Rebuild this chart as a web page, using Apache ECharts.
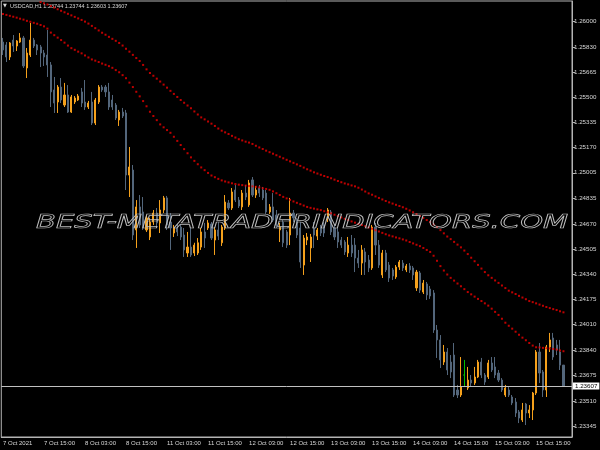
<!DOCTYPE html>
<html><head><meta charset="utf-8">
<script src="https://cdn.jsdelivr.net/npm/echarts@6/dist/echarts.min.js"></script>
<style>html,body{margin:0;padding:0;background:#000}#c{width:600px;height:450px}</style>
</head><body><div id="c"></div>
<script>
// ---- DATA (USDCAD, H1) ----
const SYMBOL = 'USDCAD,H1';
const DAY_STARTS = [['7 Oct',3],['8 Oct',0],['11 Oct',0],['12 Oct',0],['13 Oct',0],['14 Oct',0],['15 Oct',0]];
const FIRST_LABEL = '7 Oct 2021';
const EMPTY_SLOTS = 2;

const OPEN = [1.25862,1.25843,1.25764,1.25875,1.25836,1.25862,1.25889,1.25692,1.25777,1.25875,
1.25843,1.25830,1.25790,1.25777,1.25712,1.25548,1.25469,1.25567,1.25449,1.25515,
1.25403,1.25469,1.25482,1.25535,1.25469,1.25436,1.25469,1.25331,1.25469,1.25567,
1.25567,1.25535,1.25482,1.25449,1.25351,1.25403,1.25397,1.24990,1.25023,1.24630,
1.24781,1.24748,1.24630,1.24584,1.24682,1.24741,1.24676,1.24761,1.24840,1.24682,
1.24610,1.24643,1.24649,1.24597,1.24479,1.24518,1.24479,1.24479,1.24518,1.24617,
1.24643,1.24669,1.24564,1.24630,1.24546,1.24643,1.24807,1.24774,1.24892,1.24826,
1.24781,1.24872,1.24794,1.24958,1.24859,1.24905,1.24892,1.24872,1.24748,1.24781,
1.24728,1.24630,1.24682,1.24617,1.24597,1.24741,1.24695,1.24643,1.24400,1.24564,
1.24512,1.24643,1.24590,1.24649,1.24663,1.24709,1.24748,1.24643,1.24617,1.24564,
1.24551,1.24479,1.24531,1.24531,1.24446,1.24413,1.24486,1.24433,1.24381,1.24649,
1.24531,1.24335,1.24479,1.24400,1.24368,1.24322,1.24387,1.24413,1.24368,1.24394,
1.24381,1.24250,1.24348,1.24223,1.24276,1.24243,1.24217,1.23974,1.23909,1.23764,
1.23830,1.23764,1.23810,1.23581,1.23548,1.23679,1.23594,1.23646,1.23627,1.23666,
1.23764,1.23679,1.23666,1.23758,1.23732,1.23692,1.23646,1.23548,1.23581,1.23535,
1.23502,1.23437,1.23384,1.23489,1.23430,1.23450,1.23561,1.23830,1.23699,1.23581,
1.23863,1.23922,1.23876,1.23830,1.23744];
const HIGH = [1.25889,1.25862,1.25862,1.25908,1.25875,1.25921,1.25902,1.25823,1.25987,1.25889,
1.25849,1.25843,1.25810,1.25941,1.25731,1.25633,1.25580,1.25626,1.25594,1.25580,
1.25515,1.25508,1.25521,1.25561,1.25613,1.25476,1.25535,1.25495,1.25580,1.25580,
1.25580,1.25594,1.25515,1.25462,1.25417,1.25430,1.25417,1.25174,1.25056,1.24826,
1.24859,1.24846,1.24728,1.24709,1.24761,1.24774,1.24826,1.24853,1.24853,1.24741,
1.24663,1.24669,1.24669,1.24643,1.24617,1.24643,1.24546,1.24577,1.24643,1.24676,
1.24695,1.24682,1.24649,1.24682,1.24663,1.24859,1.24826,1.24905,1.24925,1.24846,
1.24892,1.24925,1.24958,1.24977,1.24918,1.24925,1.24912,1.24892,1.24800,1.24872,
1.24761,1.24676,1.24695,1.24630,1.24840,1.24761,1.24709,1.24682,1.24597,1.24610,
1.24604,1.24682,1.24643,1.24663,1.24682,1.24774,1.24761,1.24663,1.24643,1.24584,
1.24564,1.24584,1.24597,1.24577,1.24499,1.24531,1.24512,1.24466,1.24663,1.24676,
1.24564,1.24499,1.24499,1.24420,1.24381,1.24400,1.24433,1.24433,1.24407,1.24413,
1.24394,1.24368,1.24361,1.24302,1.24289,1.24263,1.24236,1.24007,1.23941,1.23876,
1.23856,1.23810,1.23889,1.23614,1.23797,1.23778,1.23732,1.23679,1.23732,1.23778,
1.23791,1.23692,1.23778,1.23797,1.23797,1.23712,1.23659,1.23614,1.23601,1.23548,
1.23528,1.23450,1.23496,1.23496,1.23482,1.23568,1.23843,1.23889,1.23712,1.23876,
1.23955,1.23955,1.23909,1.23909,1.23744];
const LOW = [1.25777,1.25731,1.25744,1.25797,1.25803,1.25856,1.25692,1.25626,1.25764,1.25823,
1.25777,1.25698,1.25705,1.25633,1.25436,1.25397,1.25397,1.25462,1.25436,1.25397,
1.25397,1.25456,1.25476,1.25436,1.25417,1.25423,1.25318,1.25318,1.25456,1.25535,
1.25502,1.25417,1.25417,1.25351,1.25312,1.25364,1.24892,1.24846,1.24564,1.24512,
1.24643,1.24630,1.24617,1.24564,1.24663,1.24656,1.24610,1.24741,1.24630,1.24499,
1.24584,1.24590,1.24564,1.24453,1.24453,1.24453,1.24459,1.24466,1.24499,1.24512,
1.24630,1.24564,1.24466,1.24564,1.24525,1.24630,1.24761,1.24761,1.24813,1.24774,
1.24761,1.24826,1.24781,1.24846,1.24840,1.24846,1.24826,1.24735,1.24735,1.24682,
1.24643,1.24551,1.24518,1.24512,1.24531,1.24682,1.24577,1.24381,1.24335,1.24531,
1.24420,1.24512,1.24564,1.24590,1.24584,1.24682,1.24597,1.24564,1.24512,1.24512,
1.24466,1.24453,1.24453,1.24354,1.24381,1.24335,1.24335,1.24354,1.24368,1.24466,
1.24381,1.24315,1.24354,1.24289,1.24302,1.24309,1.24368,1.24361,1.24354,1.24348,
1.24302,1.24230,1.24217,1.24210,1.24171,1.24178,1.23955,1.23791,1.23725,1.23745,
1.23679,1.23659,1.23535,1.23528,1.23535,1.23601,1.23581,1.23607,1.23614,1.23659,
1.23659,1.23614,1.23653,1.23699,1.23659,1.23633,1.23568,1.23535,1.23535,1.23482,
1.23404,1.23364,1.23371,1.23351,1.23397,1.23384,1.23548,1.23627,1.23535,1.23535,
1.23830,1.23778,1.23810,1.23712,1.23603];
const CLOSE = [1.25810,1.25764,1.25856,1.25836,1.25869,1.25889,1.25705,1.25790,1.25875,1.25836,
1.25810,1.25790,1.25764,1.25712,1.25535,1.25462,1.25567,1.25482,1.25515,1.25403,
1.25502,1.25495,1.25508,1.25462,1.25436,1.25462,1.25331,1.25482,1.25567,1.25548,
1.25535,1.25436,1.25436,1.25364,1.25403,1.25377,1.24990,1.25043,1.24597,1.24781,
1.24663,1.24643,1.24709,1.24682,1.24741,1.24676,1.24761,1.24840,1.24663,1.24643,
1.24643,1.24617,1.24584,1.24499,1.24518,1.24466,1.24531,1.24546,1.24617,1.24577,
1.24676,1.24577,1.24630,1.24590,1.24649,1.24813,1.24774,1.24879,1.24826,1.24787,
1.24872,1.24846,1.24938,1.24859,1.24892,1.24872,1.24840,1.24748,1.24781,1.24695,
1.24663,1.24649,1.24546,1.24531,1.24741,1.24709,1.24597,1.24420,1.24577,1.24584,
1.24584,1.24597,1.24630,1.24610,1.24610,1.24761,1.24617,1.24584,1.24551,1.24531,
1.24486,1.24531,1.24479,1.24446,1.24413,1.24499,1.24420,1.24381,1.24649,1.24531,
1.24400,1.24479,1.24368,1.24315,1.24328,1.24387,1.24420,1.24381,1.24394,1.24368,
1.24335,1.24354,1.24236,1.24282,1.24204,1.24197,1.23974,1.23909,1.23778,1.23830,
1.23712,1.23699,1.23548,1.23548,1.23601,1.23679,1.23646,1.23627,1.23666,1.23764,
1.23679,1.23633,1.23758,1.23712,1.23679,1.23646,1.23581,1.23594,1.23548,1.23496,
1.23430,1.23397,1.23450,1.23430,1.23450,1.23561,1.23830,1.23692,1.23581,1.23863,
1.23909,1.23797,1.23843,1.23744,1.23607];
const DOJI_BARS = [135];

const BAND_UPPER = ['-','-','-','-','-','-','-','-','-','-','-',
1.26124,1.26116,1.26108,1.26098,1.26088,1.26077,1.26067,1.26057,1.26047,
1.26037,1.26027,1.26017,1.26007,1.25996,1.25983,1.25968,1.25953,1.25938,1.25923,
1.25910,1.25896,1.25883,1.25870,1.25856,1.25839,1.25818,1.25799,1.25778,1.25757,
1.25738,1.25712,1.25683,1.25659,1.25641,1.25622,1.25603,1.25583,1.25563,1.25542,
1.25522,1.25502,1.25482,1.25464,1.25446,1.25428,1.25407,1.25387,1.25368,1.25355,
1.25341,1.25327,1.25312,1.25295,1.25281,1.25270,1.25259,1.25247,1.25236,1.25225,
1.25217,1.25209,1.25203,1.25194,1.25182,1.25171,1.25161,1.25150,1.25140,1.25130,
1.25120,1.25110,1.25100,1.25090,1.25080,1.25070,1.25060,1.25050,1.25039,1.25028,
1.25019,1.25008,1.25000,1.24992,1.24984,1.24977,1.24969,1.24960,1.24951,1.24943,
1.24935,1.24929,1.24922,1.24916,1.24907,1.24895,1.24882,1.24870,1.24861,1.24850,
1.24840,1.24830,1.24820,1.24811,1.24803,1.24795,1.24787,1.24779,1.24769,1.24758,
1.24746,1.24734,1.24722,1.24709,1.24695,1.24682,1.24667,1.24650,1.24629,1.24608,
1.24587,1.24570,1.24552,1.24534,1.24516,1.24495,1.24472,1.24448,1.24425,1.24401,
1.24377,1.24354,1.24333,1.24316,1.24299,1.24283,1.24266,1.24249,1.24232,1.24221,
1.24210,1.24198,1.24187,1.24176,1.24164,1.24157,1.24149,1.24141,1.24133,1.24125,
1.24118,1.24111,1.24105,1.24097,1.24090];
const BAND_LOWER = [1.26046,1.26040,1.26034,1.26028,1.26022,1.26015,1.26009,1.26001,1.25995,1.25988,
1.25982,1.25974,1.25965,1.25950,1.25924,1.25907,1.25891,1.25875,1.25858,1.25839,
1.25822,1.25811,1.25799,1.25788,1.25774,1.25761,1.25748,1.25740,1.25731,1.25721,
1.25713,1.25704,1.25693,1.25678,1.25664,1.25645,1.25625,1.25596,1.25567,1.25536,
1.25506,1.25475,1.25441,1.25405,1.25377,1.25350,1.25322,1.25303,1.25285,1.25267,
1.25241,1.25214,1.25187,1.25160,1.25133,1.25106,1.25083,1.25061,1.25040,1.25022,
1.25004,1.24987,1.24976,1.24965,1.24955,1.24948,1.24942,1.24936,1.24931,1.24927,
1.24924,1.24921,1.24918,1.24916,1.24913,1.24909,1.24904,1.24899,1.24893,1.24883,
1.24871,1.24859,1.24847,1.24837,1.24827,1.24817,1.24808,1.24799,1.24790,1.24781,
1.24775,1.24770,1.24765,1.24760,1.24753,1.24746,1.24739,1.24730,1.24721,1.24712,
1.24703,1.24695,1.24686,1.24678,1.24670,1.24663,1.24655,1.24647,1.24638,1.24628,
1.24620,1.24611,1.24602,1.24594,1.24588,1.24581,1.24575,1.24568,1.24561,1.24551,
1.24542,1.24533,1.24524,1.24512,1.24499,1.24486,1.24461,1.24428,1.24393,1.24364,
1.24338,1.24316,1.24298,1.24279,1.24261,1.24242,1.24223,1.24208,1.24193,1.24178,
1.24164,1.24149,1.24134,1.24114,1.24093,1.24073,1.24048,1.24022,1.24002,1.23983,
1.23963,1.23943,1.23924,1.23907,1.23889,1.23872,1.23861,1.23860,1.23857,1.23855,
1.23853,1.23850,1.23846,1.23840,1.23835];

const Y_TICKS = [1.26000,1.25830,1.25665,1.25500,1.25335,1.25170,1.25005,1.24835,1.24670,
1.24505,1.24340,1.24175,1.24010,1.23840,1.23675,1.23510,1.23345];
const Y_MIN = 1.232727, Y_MAX = 1.261311;
const WATERMARK = 'BEST-METATRADERINDICATORS.COM';

// ---- build ----
const CATEGORIES = [];
DAY_STARTS.forEach(([d, h0]) => { for (let h = h0; h < 24; h++) CATEGORIES.push(d + ' ' + String(h).padStart(2,'0') + ':00'); });
const NBARS = CATEGORIES.length;
for (let i = 0; i < EMPTY_SLOTS; i++) CATEGORIES.push('');
const last = NBARS - 1;
const fmt = v => v.toFixed(5);

const UP = '#f5a11c', DOWN = '#53667b', DOJI = '#00c000', FG = '#d8d8d8', FRAME = '#b4b4b4', DOT = '#ee0000';
const candleData = OPEN.map((o, i) => {
  const v = [o, CLOSE[i], LOW[i], HIGH[i]];
  if (DOJI_BARS.includes(i)) return {value: v, itemStyle: {color: DOJI, color0: DOJI, borderColor: DOJI, borderColor0: DOJI}};
  return v;
});
const FONT = '"Liberation Sans",Arial,sans-serif';
const tickInt = (i, v) => i % 12 === 0 && v !== '';

const chart = echarts.init(document.getElementById('c'), null, {renderer: 'canvas'});
chart.setOption({
  backgroundColor: '#000',
  animation: false,
  grid: {left: 1, right: 28, top: 1, bottom: 13, show: true, borderColor: FRAME, borderWidth: 1, backgroundColor: 'transparent'},
  xAxis: {
    type: 'category', data: CATEGORIES, boundaryGap: true,
    axisLine: {lineStyle: {color: FRAME}},
    axisTick: {alignWithLabel: true, interval: tickInt, length: 3, lineStyle: {color: FRAME}},
    axisLabel: {interval: tickInt, formatter: (v, i) => i === 0 ? FIRST_LABEL : v, align: 'left',
      color: FG, fontSize: 6, fontFamily: FONT, margin: 3},
    splitLine: {show: false}
  },
  yAxis: {
    type: 'value', position: 'right', min: Y_MIN, max: Y_MAX, scale: true,
    axisLine: {show: true, lineStyle: {color: FRAME}},
    axisTick: {show: true, customValues: Y_TICKS, length: 3, lineStyle: {color: FRAME}},
    axisLabel: {customValues: Y_TICKS, formatter: fmt, color: FG, fontSize: 6.2, fontFamily: FONT, margin: 2},
    splitLine: {show: false}
  },
  graphic: [
    {type: 'text', x: 3, y: 3, silent: true, style: {text: '▼', font: '5px "DejaVu Sans"', fill: FG}},
    {type: 'text', x: 10, y: 3, silent: true, style: {text: SYMBOL + ' ' + [OPEN[last], HIGH[last], LOW[last], CLOSE[last]].map(fmt).join(' '),
      font: '5.5px ' + FONT, fill: FG}},
    {type: 'text', x: 36, y: 214, scaleX: 1.53, z: 100, silent: true,
      style: {text: WATERMARK, font: 'italic 19px "DejaVu Sans"', fill: 'transparent', stroke: '#bdbdbd', lineWidth: 0.7}}
  ],
  series: [
    {
      type: 'candlestick', data: candleData, barWidth: 1.6,
      itemStyle: {color: UP, color0: DOWN, borderColor: UP, borderColor0: DOWN, borderWidth: 1}
    },
    {type: 'scatter', data: BAND_UPPER, symbol: 'rect', symbolSize: 2, itemStyle: {color: DOT}, z: 3},
    {type: 'scatter', data: BAND_LOWER, symbol: 'rect', symbolSize: 2, itemStyle: {color: DOT}, z: 3,
      markLine: {
        silent: true, symbol: ['none', 'none'], animation: false, precision: 5,
        data: [{yAxis: CLOSE[last]}],
        lineStyle: {color: '#c0c0c0', type: 'solid', width: 1},
        label: {position: 'end', formatter: () => fmt(CLOSE[last]), backgroundColor: '#fff', color: '#000',
          padding: [1, 2, 0, 2], fontSize: 6.2, fontFamily: FONT, distance: 1}
      }
    }
  ]
});
</script></body></html>
